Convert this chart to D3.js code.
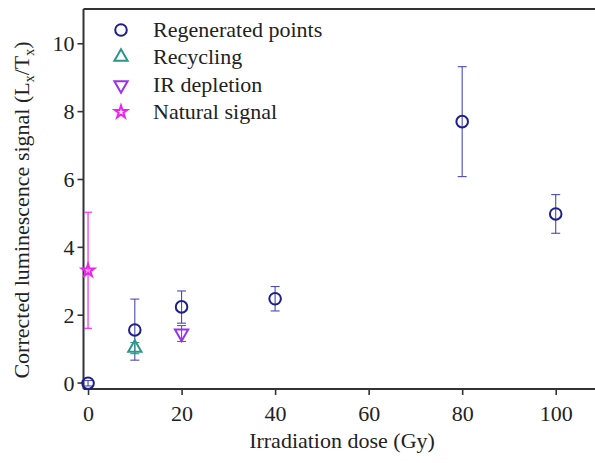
<!DOCTYPE html>
<html><head><meta charset="utf-8">
<script src="https://cdn.jsdelivr.net/npm/d3@7"></script>
<style>body{margin:0;background:#fff}svg{display:block}text{font-family:"Liberation Serif","Times New Roman",serif !important;fill:#222}</style>
</head><body><svg id="c" width="595" height="463"></svg>
<script>
const xTicks=[0,20,40,60,80,100];
const yTicks=[0,2,4,6,8,10];
const regenDose=[0,10,20,40,80,100];
const regenVal=[-0.02,1.55,2.23,2.47,7.69,4.97];
const regenLo=[-0.1,0.66,1.75,2.11,6.07,4.40];
const regenHi=[0.06,2.46,2.70,2.83,9.31,5.54];
const recDose=[10], recVal=[1.02], recLo=[0.85], recHi=[1.18];
const irDose=[20], irVal=[1.45], irLo=[1.21], irHi=[1.68];
const natDose=[0], natVal=[3.30], natLo=[1.60], natHi=[5.02];
const legendLabels=["Regenerated points","Recycling","IR depletion","Natural signal"];
const colors={regen:"#1e1e8e",regenErr:"#4a4ab8",rec:"#2a978a",ir:"#9a30f0",nat:"#f020f0"};
const FS=22;

const svg=d3.select("#c");
const L=83.5,T=9,B=389,R=595;
const x=d3.scaleLinear().domain([-0.97,108.4]).range([L,R]);
const y=d3.scaleLinear().domain([-0.19,11.01]).range([B,T]);

const gx=svg.append("g").attr("transform",`translate(0,${B})`).call(d3.axisBottom(x).tickValues(xTicks).tickSize(6).tickPadding(6).tickFormat(d3.format("d")));
const gy=svg.append("g").attr("transform",`translate(${L},0)`).call(d3.axisLeft(y).tickValues(yTicks).tickSize(6).tickPadding(3).tickFormat(d3.format("d")));
[gx,gy].forEach(g=>{g.attr("font-family",null).attr("font-size",null);g.select(".domain").remove();g.selectAll("line").attr("stroke","#333").attr("stroke-width",1.6);g.selectAll("text").attr("font-size",FS).attr("fill","#222");});
gx.selectAll("text").attr("dy","0.92em");
gy.selectAll("text").attr("dy","0.34em");
svg.append("line").attr("x1",L).attr("x2",R).attr("y1",B).attr("y2",B).attr("stroke","#333").attr("stroke-width",2);
svg.append("line").attr("x1",L).attr("x2",L).attr("y1",T).attr("y2",B).attr("stroke","#333").attr("stroke-width",2);
svg.append("line").attr("x1",L).attr("x2",R).attr("y1",T).attr("y2",T).attr("stroke","#333").attr("stroke-width",2);

svg.append("text").attr("x",342).attr("y",448).attr("text-anchor","middle").attr("font-size",FS).text("Irradiation dose (Gy)");
const yt=svg.append("text").attr("transform","translate(29,210) rotate(-90)").attr("text-anchor","middle").attr("font-size",FS);
yt.append("tspan").text("Corrected luminescence signal (L");
yt.append("tspan").attr("font-size",14).attr("dy",5).text("x");
yt.append("tspan").attr("dy",-5).text("/T");
yt.append("tspan").attr("font-size",14).attr("dy",5).text("x");
yt.append("tspan").attr("dy",-5).text(")");

function errBars(dose,lo,hi,col,cap){
  const g=svg.append("g").attr("stroke",col).attr("stroke-width",1.1);
  dose.forEach((d,i)=>{
    const cx=x(d);
    g.append("line").attr("x1",cx).attr("x2",cx).attr("y1",y(lo[i])).attr("y2",y(hi[i]));
    g.append("line").attr("x1",cx-cap).attr("x2",cx+cap).attr("y1",y(lo[i])).attr("y2",y(lo[i]));
    g.append("line").attr("x1",cx-cap).attr("x2",cx+cap).attr("y1",y(hi[i])).attr("y2",y(hi[i]));
  });
}
errBars(natDose,natLo,natHi,colors.nat,4);
errBars(regenDose,regenLo,regenHi,colors.regenErr,4.5);
errBars(recDose,recLo,recHi,colors.rec,4.5);
errBars(irDose,irLo,irHi,colors.ir,4.5);

const sym={
  circle:d3.symbol().type(d3.symbolCircle).size(105),
  tri:d3.symbol().type(d3.symbolTriangle2).size(125),
  star:d3.symbol().type(d3.symbolStar).size(48)
};
function pts(dose,val,path,col,rot){
  svg.append("g").selectAll("path").data(dose).join("path")
    .attr("d",path).attr("fill","none").attr("stroke",col).attr("stroke-width",2)
    .attr("transform",(d,i)=>`translate(${x(d)},${y(val[i])})${rot?" rotate("+rot+")":""}`);
}
pts(regenDose,regenVal,sym.circle(),colors.regen,0);
pts(recDose,recVal,sym.tri(),colors.rec,0);
pts(irDose,irVal,sym.tri(),colors.ir,180);
pts(natDose,natVal,sym.star(),colors.nat,0);

const legY=[30,57,85,112];
const legSym=[[sym.circle(),colors.regen,0],[sym.tri(),colors.rec,0],[sym.tri(),colors.ir,180],[sym.star(),colors.nat,0]];
legendLabels.forEach((t,i)=>{
  svg.append("path").attr("d",legSym[i][0]).attr("fill","none").attr("stroke",legSym[i][1]).attr("stroke-width",2)
    .attr("transform",`translate(121,${legY[i]})${legSym[i][2]?" rotate(180)":""}`);
  svg.append("text").attr("x",153).attr("y",legY[i]+7).attr("font-size",FS).text(t);
});
</script></body></html>
